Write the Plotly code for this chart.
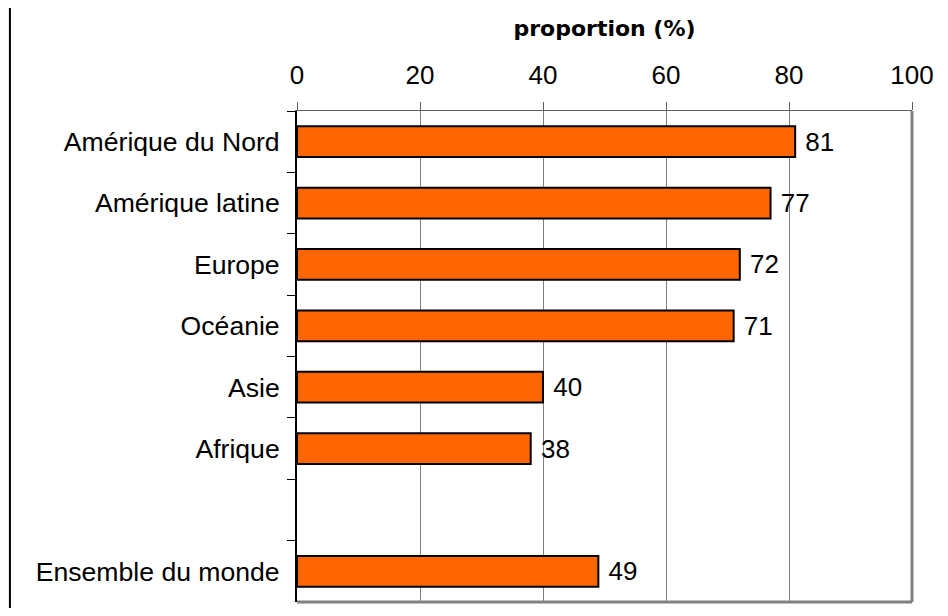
import plotly.graph_objects as go

categories = ["Amérique du Nord", "Amérique latine", "Europe", "Océanie",
              "Asie", "Afrique", " ", "Ensemble du monde"]
values = [81, 77, 72, 71, 40, 38, None, 49]
x_ticks = [0, 20, 40, 60, 80, 100]

labels = ["" if v is None else " " + str(v) for v in values]

# page has an 8px body margin; figure is sized to fit inside the window
W, H = 932, 600
L, R, T, B = 289, 26, 103, 6
PW, PH = W - L - R, H - T - B

fig = go.Figure(go.Bar(
    x=values, y=categories, orientation="h",
    marker=dict(color="#FF6600", line=dict(color="black", width=2)),
    text=labels, textposition="outside",
    textfont=dict(family="Liberation Sans, Arial", size=26, color="black"),
    cliponaxis=False,
))

fig.update_layout(
    width=W, height=H,
    margin=dict(l=L, r=R, t=T, b=B),
    paper_bgcolor="white", plot_bgcolor="white",
    bargap=0.5, showlegend=False,
    font=dict(family="Liberation Sans, Arial", size=26, color="black"),
    xaxis=dict(
        side="top", range=[0, 100], tickvals=x_ticks,
        showgrid=True, gridcolor="#808080", gridwidth=1,
        showline=True, linecolor="#606060", linewidth=1,
        ticks="outside", ticklen=8, tickcolor="#606060",
        tickfont=dict(size=26), zeroline=False, ticklabelstandoff=8,
        title=dict(text="<b>proportion (%)</b>",
                   font=dict(family="DejaVu Sans", size=22, color="black"),
                   standoff=16),
    ),
    yaxis=dict(
        type="category", categoryorder="array", categoryarray=categories,
        autorange="reversed", tickson="boundaries",
        ticks="outside", ticklen=8, tickcolor="black",
        showline=True, linecolor="black", linewidth=2,
        showgrid=False, tickfont=dict(size=26.6), ticklabelstandoff=10,
    ),
    shapes=[
        dict(type="line", xref="paper", yref="paper", x0=1, x1=1, y0=0, y1=1,
             line=dict(color="#808080", width=3)),
        dict(type="line", xref="paper", yref="paper", x0=0, x1=1, y0=0, y1=0,
             line=dict(color="#808080", width=3)),
        dict(type="line", xref="paper", yref="paper",
             x0=(1 - L) / PW, x1=(1 - L) / PW,
             y0=-B / PH, y1=(H - B) / PH,
             line=dict(color="black", width=2)),
    ],
)

fig.write_html("out.html")
